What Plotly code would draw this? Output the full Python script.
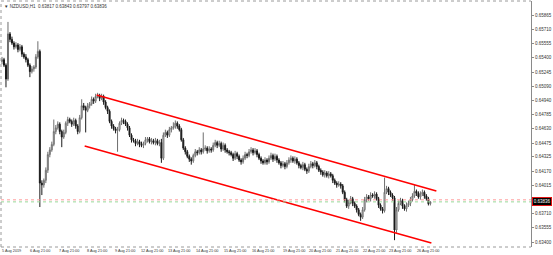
import plotly.graph_objects as go

# ---- data (prices in pips, 1 pip = 0.0001) ----
open_pips = [
 6536, 6538, 6532, 6517, 6566, 6560, 6556, 6552, 6554, 6549,
 6552, 6544, 6541, 6538, 6532, 6525, 6528, 6530, 6541, 6547,
 6404, 6402, 6407, 6418, 6435, 6440, 6446, 6460, 6464, 6468,
 6460, 6454, 6459, 6469, 6473, 6471, 6468, 6472, 6466, 6460,
 6475, 6488, 6486, 6483, 6488, 6490, 6495, 6493, 6498, 6499,
 6496, 6498, 6492, 6486, 6482, 6471, 6466, 6463, 6461, 6462,
 6469, 6472, 6471, 6468, 6464, 6456, 6451, 6450, 6447, 6449,
 6446, 6445, 6447, 6451, 6452, 6449, 6450, 6448, 6450, 6447,
 6448, 6431, 6456, 6459, 6456, 6462, 6464, 6465, 6469, 6466,
 6462, 6451, 6442, 6438, 6433, 6430, 6428, 6434, 6438, 6437,
 6440, 6438, 6441, 6442, 6439, 6441, 6440, 6445, 6448, 6445,
 6447, 6441, 6445, 6440, 6438, 6437, 6435, 6431, 6436, 6433,
 6429, 6427, 6431, 6435, 6434, 6438, 6440, 6437, 6439, 6435,
 6431, 6428, 6426, 6429, 6427, 6431, 6434, 6430, 6433, 6429,
 6426, 6423, 6425, 6422, 6426, 6429, 6431, 6428, 6430, 6426,
 6423, 6421, 6424, 6419, 6417, 6422, 6425, 6423, 6426, 6422,
 6418, 6416, 6413, 6415, 6412, 6414, 6412, 6407, 6404, 6402,
 6403, 6401, 6394, 6386, 6379, 6383, 6387, 6382, 6379, 6375,
 6370, 6367, 6375, 6386, 6389, 6387, 6391, 6390, 6392, 6387,
 6380, 6376, 6374, 6394, 6398, 6394, 6391, 6388, 6353, 6375,
 6382, 6385, 6379, 6376, 6380, 6382, 6386, 6390, 6395, 6393,
 6389, 6392, 6394, 6390, 6387, 6381.7]
high_pips = [
 6541, 6540, 6534, 6579, 6568, 6563, 6558, 6557, 6556, 6555,
 6554, 6546, 6544, 6540, 6534, 6531, 6532, 6544, 6558, 6549,
 6407, 6409, 6421, 6438, 6443, 6449, 6473, 6467, 6471, 6470,
 6462, 6462, 6471, 6476, 6475, 6473, 6475, 6474, 6468, 6478,
 6495, 6491, 6488, 6491, 6492, 6498, 6497, 6501, 6502, 6501,
 6501, 6500, 6494, 6488, 6484, 6473, 6468, 6465, 6465, 6471,
 6475, 6474, 6473, 6470, 6466, 6458, 6453, 6452, 6452, 6451,
 6449, 6449, 6454, 6454, 6454, 6453, 6452, 6453, 6452, 6451,
 6452, 6459, 6462, 6461, 6465, 6466, 6470, 6472, 6471, 6468,
 6464, 6453, 6444, 6440, 6435, 6432, 6436, 6441, 6440, 6443,
 6442, 6459, 6445, 6444, 6444, 6443, 6448, 6451, 6450, 6450,
 6449, 6448, 6447, 6442, 6440, 6439, 6437, 6439, 6438, 6435,
 6431, 6434, 6438, 6437, 6441, 6443, 6442, 6442, 6441, 6437,
 6433, 6430, 6432, 6431, 6434, 6437, 6436, 6436, 6435, 6431,
 6428, 6428, 6427, 6429, 6432, 6434, 6433, 6433, 6432, 6428,
 6425, 6427, 6426, 6421, 6425, 6428, 6427, 6429, 6428, 6424,
 6420, 6418, 6418, 6417, 6417, 6416, 6414, 6409, 6406, 6406,
 6405, 6403, 6396, 6388, 6386, 6390, 6389, 6384, 6381, 6377,
 6372, 6378, 6389, 6392, 6391, 6394, 6393, 6395, 6394, 6389,
 6382, 6378, 6410, 6401, 6400, 6396, 6393, 6390, 6378, 6385,
 6388, 6387, 6381, 6383, 6385, 6389, 6393, 6402, 6397, 6395,
 6395, 6397, 6396, 6392, 6389, 6384.3]
low_pips = [
 6533, 6530, 6508, 6515, 6557, 6554, 6549, 6550, 6546, 6547,
 6541, 6539, 6535, 6530, 6519, 6523, 6525, 6528, 6539, 6378,
 6391, 6399, 6404, 6415, 6432, 6438, 6444, 6457, 6462, 6457,
 6443, 6452, 6457, 6466, 6469, 6465, 6466, 6463, 6457, 6458,
 6473, 6483, 6459, 6481, 6485, 6488, 6490, 6491, 6496, 6493,
 6494, 6489, 6484, 6479, 6469, 6463, 6461, 6458, 6438, 6460,
 6467, 6468, 6466, 6461, 6454, 6448, 6448, 6444, 6445, 6443,
 6443, 6442, 6445, 6448, 6447, 6446, 6446, 6445, 6445, 6444,
 6426, 6429, 6454, 6453, 6454, 6459, 6462, 6463, 6463, 6460,
 6449, 6440, 6435, 6431, 6427, 6424, 6426, 6432, 6434, 6435,
 6435, 6436, 6439, 6436, 6437, 6437, 6438, 6443, 6442, 6443,
 6438, 6439, 6437, 6436, 6434, 6433, 6428, 6429, 6430, 6427,
 6424, 6425, 6429, 6431, 6432, 6436, 6434, 6435, 6432, 6429,
 6425, 6424, 6424, 6424, 6425, 6429, 6427, 6428, 6426, 6424,
 6420, 6421, 6419, 6420, 6424, 6426, 6426, 6425, 6424, 6420,
 6419, 6418, 6417, 6414, 6415, 6420, 6420, 6421, 6419, 6416,
 6413, 6411, 6410, 6410, 6409, 6410, 6404, 6402, 6399, 6400,
 6398, 6392, 6383, 6377, 6376, 6381, 6379, 6377, 6372, 6368,
 6363, 6365, 6373, 6383, 6385, 6384, 6388, 6387, 6385, 6377,
 6374, 6371, 6372, 6392, 6391, 6389, 6385, 6342, 6350, 6373,
 6380, 6376, 6374, 6373, 6378, 6379, 6384, 6388, 6390, 6387,
 6386, 6390, 6387, 6385, 6379.7, 6379.7]
close_pips = [
 6538, 6532, 6517, 6566, 6560, 6556, 6552, 6554, 6549, 6552,
 6544, 6541, 6538, 6532, 6525, 6528, 6530, 6541, 6547, 6404,
 6402, 6407, 6418, 6435, 6440, 6446, 6460, 6464, 6468, 6460,
 6454, 6459, 6469, 6473, 6471, 6468, 6472, 6466, 6460, 6475,
 6488, 6486, 6483, 6488, 6490, 6495, 6493, 6498, 6499, 6496,
 6498, 6492, 6486, 6482, 6471, 6466, 6463, 6461, 6462, 6469,
 6472, 6471, 6468, 6464, 6456, 6451, 6450, 6447, 6449, 6446,
 6445, 6447, 6451, 6452, 6449, 6450, 6448, 6450, 6447, 6448,
 6431, 6456, 6459, 6456, 6462, 6464, 6465, 6469, 6466, 6462,
 6451, 6442, 6438, 6433, 6430, 6428, 6434, 6438, 6437, 6440,
 6438, 6441, 6442, 6439, 6441, 6440, 6445, 6448, 6445, 6447,
 6441, 6445, 6440, 6438, 6437, 6435, 6431, 6436, 6433, 6429,
 6427, 6431, 6435, 6434, 6438, 6440, 6437, 6439, 6435, 6431,
 6428, 6426, 6429, 6427, 6431, 6434, 6430, 6433, 6429, 6426,
 6423, 6425, 6422, 6426, 6429, 6431, 6428, 6430, 6426, 6423,
 6421, 6424, 6419, 6417, 6422, 6425, 6423, 6426, 6422, 6418,
 6416, 6413, 6415, 6412, 6414, 6412, 6407, 6404, 6402, 6403,
 6401, 6394, 6386, 6379, 6383, 6387, 6382, 6379, 6375, 6370,
 6367, 6375, 6386, 6389, 6387, 6391, 6390, 6392, 6387, 6380,
 6376, 6374, 6394, 6398, 6394, 6391, 6388, 6353, 6375, 6382,
 6385, 6379, 6376, 6380, 6382, 6386, 6390, 6395, 6393, 6389,
 6392, 6394, 6390, 6387, 6381.7, 6383.6]

x_labels = ["5 Aug 2019", "6 Aug 21:00", "7 Aug 21:00", "8 Aug 21:00", "9 Aug 21:00",
            "12 Aug 21:00", "13 Aug 21:00", "14 Aug 21:00", "15 Aug 21:00", "16 Aug 21:00",
            "19 Aug 21:00", "20 Aug 21:00", "21 Aug 21:00", "22 Aug 21:00", "23 Aug 21:00",
            "26 Aug 21:00"]
# bar index where each time label starts (MT4 style, text to the right of the mark)
x_label_bars = [-0.3, 13.5, 28, 42, 56, 69.5, 83, 97, 111, 125,
                140.5, 153.5, 167, 180.5, 193.5, 208]

# visible price-scale labels (0.63865 is hidden behind the price box)
y_ticks = [0.63400, 0.63555, 0.63710, 0.64015, 0.64170, 0.64325, 0.64475,
           0.64630, 0.64785, 0.64940, 0.65090, 0.65245, 0.65400, 0.65555, 0.65710, 0.65865]

# channel trend lines (bar index, price)
upper_x = [47.5, 218]
upper_y = [0.64996, 0.63954]
lower_x = [41.5, 215.5]
lower_y = [0.64443, 0.63389]

ask_price = 0.63858
bid_price = 0.63836

y_min, y_max = 0.63346, 0.66017

o = [v / 1e4 for v in open_pips]
h = [v / 1e4 for v in high_pips]
l = [v / 1e4 for v in low_pips]
c = [v / 1e4 for v in close_pips]
bars = list(range(len(c)))

fig = go.Figure()
fig.add_trace(go.Candlestick(
    x=bars, open=o, high=h, low=l, close=c,
    increasing=dict(line=dict(color="#6e6e6e", width=1), fillcolor="#ffffff"),
    decreasing=dict(line=dict(color="#1a1a1a", width=1), fillcolor="#1a1a1a"),
    whiskerwidth=0, showlegend=False, hoverinfo="skip"))

fig.add_trace(go.Scatter(x=upper_x, y=upper_y, mode="lines",
                         line=dict(color="#ff0000", width=1.6), showlegend=False))
fig.add_trace(go.Scatter(x=lower_x, y=lower_y, mode="lines",
                         line=dict(color="#ff0000", width=1.6), showlegend=False))

font = "Liberation Sans, Arial, sans-serif"
fig.update_layout(
    width=553, height=255,
    margin=dict(l=1, r=20, t=1, b=8),
    paper_bgcolor="white", plot_bgcolor="white",
    showlegend=False,
    xaxis=dict(range=[-0.5, 265.5], rangeslider=dict(visible=False),
               showgrid=False, zeroline=False, showline=False,
               showticklabels=False, ticks=""),
    yaxis=dict(range=[y_min, y_max], side="right",
               showgrid=False, zeroline=False, showline=True, linecolor="#8a8a8a",
               linewidth=1, tickmode="array", tickvals=y_ticks,
               ticktext=["%.5f" % v for v in y_ticks],
               ticks="outside", ticklen=2, tickcolor="#8a8a8a",
               tickfont=dict(size=4.5, color="#333333", family=font)),
)

# time labels along the bottom
for xb, txt in zip(x_label_bars, x_labels):
    fig.add_annotation(xref="x", x=xb, xanchor="left", yref="paper", y=0, yanchor="top",
                       yshift=-1, text=txt, showarrow=False, borderpad=0,
                       font=dict(size=3.8, color="#333333", family=font))

# ask / bid lines
fig.add_hline(y=ask_price, line=dict(color="#ff9a9a", width=1, dash="dot"))
fig.add_hline(y=bid_price, line=dict(color="#9ad89a", width=1, dash="dot"))

# chart border (dotted) left, top, bottom
for x0, y0, x1, y1 in [(0, 0, 0, 1), (0, 1, 1, 1), (0, 0, 1, 0)]:
    fig.add_shape(type="line", xref="paper", yref="paper", x0=x0, y0=y0, x1=x1, y1=y1,
                  line=dict(color="#9a9a9a", width=1, dash="dot"))

# bid price label
fig.add_annotation(xref="paper", x=1.002, xanchor="left", yref="y", y=bid_price, yanchor="middle",
                   text="%.5f" % c[-1], showarrow=False, bgcolor="#000000",
                   bordercolor="#ff0000", borderwidth=0.8,
                   font=dict(size=4.5, color="#ffffff", family=font), borderpad=1)

# title line
title = "\u25BC NZDUSD,H1  %.5f %.5f %.5f %.5f" % (o[-1], h[-1], l[-1], c[-1])
fig.add_annotation(xref="paper", x=0.002, xanchor="left", yref="paper", y=0.997, yanchor="top",
                   text=title, showarrow=False,
                   font=dict(size=4.5, color="#333333", family=font))

fig.write_html("out.html")
